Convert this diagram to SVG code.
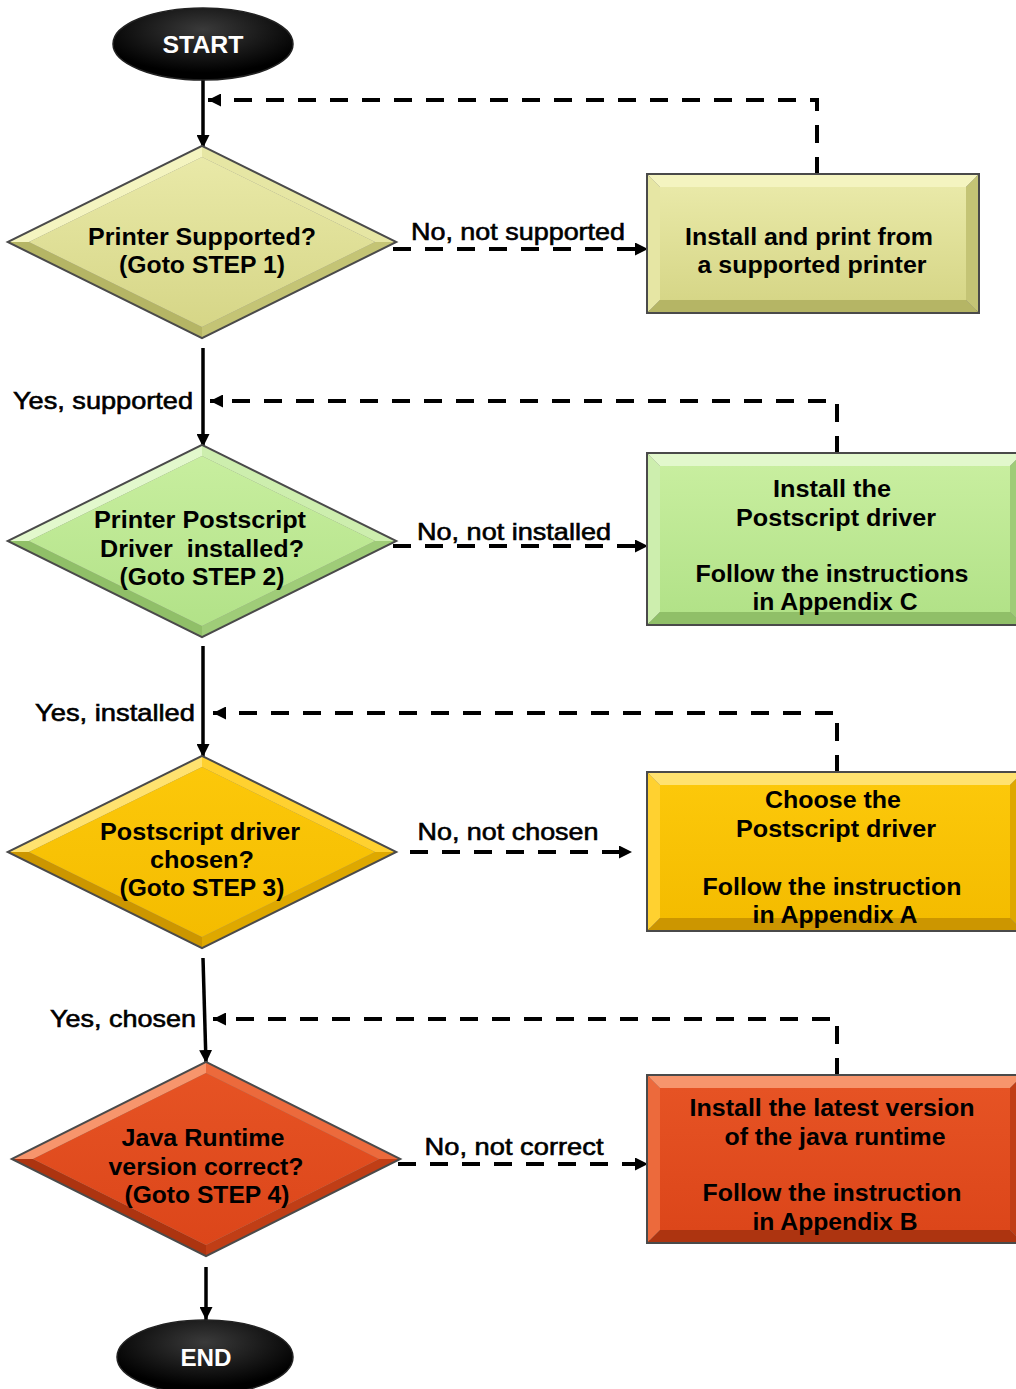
<svg xmlns="http://www.w3.org/2000/svg" width="1016" height="1389" viewBox="0 0 1016 1389">
<defs>
<style>
.bold{font-family:"Liberation Sans",Arial,sans-serif;font-weight:bold;font-size:23px;fill:#000;text-anchor:middle}
.lbl{font-family:"Liberation Sans",Arial,sans-serif;font-size:24px;fill:#000;stroke:#000;stroke-width:0.6px;text-anchor:middle}
.wt{font-family:"Liberation Sans",Arial,sans-serif;font-weight:bold;font-size:24px;fill:#fff;text-anchor:middle}
.outline{stroke:#4a4a4a;stroke-width:4;stroke-linejoin:miter}
.solid{fill:none;stroke:#000;stroke-width:3.5}
.dash{fill:none;stroke:#000;stroke-width:4;stroke-dasharray:18 14}
.y-l{fill:#f4f4c0}.y-m{fill:#e6e6a4}.y-d{fill:#c4c475}.y-dd{fill:#b5b565}
.g-l{fill:#e2f8cc}.g-m{fill:#cdeeae}.g-d{fill:#9fcc78}.g-dd{fill:#90bf68}
.o-l{fill:#ffe270}.o-m{fill:#ffd130}.o-d{fill:#dea800}.o-dd{fill:#cc9600}
.r-l{fill:#f7956c}.r-m{fill:#ec6a3c}.r-d{fill:#c03e16}.r-dd{fill:#ad3410}
</style>
<linearGradient id="gy" x1="0" y1="0" x2="0" y2="1"><stop offset="0" stop-color="#e9e9a8"/><stop offset="1" stop-color="#d6d687"/></linearGradient>
<linearGradient id="gg" x1="0" y1="0" x2="0" y2="1"><stop offset="0" stop-color="#c8ee9f"/><stop offset="1" stop-color="#b2e288"/></linearGradient>
<linearGradient id="go" x1="0" y1="0" x2="0" y2="1"><stop offset="0" stop-color="#fcc80a"/><stop offset="1" stop-color="#f4bc00"/></linearGradient>
<linearGradient id="gr" x1="0" y1="0" x2="0" y2="1"><stop offset="0" stop-color="#e65324"/><stop offset="1" stop-color="#dc461a"/></linearGradient>
<radialGradient id="gb" cx="0.5" cy="0.3" r="0.6"><stop offset="0" stop-color="#3a3a3a"/><stop offset="1" stop-color="#000"/></radialGradient>
<marker id="ah" markerUnits="userSpaceOnUse" markerWidth="13" markerHeight="13" viewBox="0 0 13 13" refX="13" refY="6.5" orient="auto">
<path d="M0,0 L13,6.5 L0,13 z" fill="#000"/>
</marker>
</defs>
<rect width="1016" height="1389" fill="#fff"/>

<g id="connectors">
<path class="solid" d="M203,80 V148" marker-end="url(#ah)"/>
<path class="dash" d="M817,175 V100 H208" marker-end="url(#ah)"/>
<path class="dash" d="M393,249 H648" marker-end="url(#ah)"/>
<path class="solid" d="M203,348 V447" marker-end="url(#ah)"/>
<path class="dash" d="M837,454 V401 H210" marker-end="url(#ah)"/>
<path class="dash" d="M393,546 H648" marker-end="url(#ah)"/>
<path class="solid" d="M203,646 V757" marker-end="url(#ah)"/>
<path class="dash" d="M837,773 V713 H213" marker-end="url(#ah)"/>
<path class="dash" d="M410,852 H632" marker-end="url(#ah)"/>
<path class="solid" d="M203,958 L206,1063" marker-end="url(#ah)"/>
<path class="dash" d="M837,1076 V1019 H213" marker-end="url(#ah)"/>
<path class="dash" d="M398,1164 H648" marker-end="url(#ah)"/>
<path class="solid" d="M206,1267 V1320" marker-end="url(#ah)"/>
<text class="lbl" x="518" y="240" textLength="214" lengthAdjust="spacingAndGlyphs">No, not supported</text>
<text class="lbl" x="103" y="409" textLength="180" lengthAdjust="spacingAndGlyphs">Yes, supported</text>
<text class="lbl" x="514" y="540" textLength="194" lengthAdjust="spacingAndGlyphs">No, not installed</text>
<text class="lbl" x="115" y="721" textLength="160" lengthAdjust="spacingAndGlyphs">Yes, installed</text>
<text class="lbl" x="508" y="840" textLength="181" lengthAdjust="spacingAndGlyphs">No, not chosen</text>
<text class="lbl" x="123" y="1027" textLength="146" lengthAdjust="spacingAndGlyphs">Yes, chosen</text>
<text class="lbl" x="514" y="1155" textLength="179" lengthAdjust="spacingAndGlyphs">No, not correct</text>
</g>

<g id="start">
<ellipse cx="203" cy="44" rx="90" ry="36" fill="url(#gb)" stroke="#222" stroke-width="1.5"/>
<text class="wt" x="203" y="53" textLength="81" lengthAdjust="spacingAndGlyphs">START</text>
</g>

<g id="decision1" transform="translate(202,242)">
<polygon class="outline" points="0,-95 192,0 0,95 -192,0" fill="#888"/>
<polygon class="y-l" points="-192,0 0,-95 0,-85 -173,0"/>
<polygon class="y-m" points="0,-95 192,0 173,0 0,-85"/>
<polygon class="y-d" points="192,0 0,95 0,85 173,0"/>
<polygon class="y-dd" points="0,95 -192,0 -173,0 0,85"/>
<polygon points="0,-85 173,0 0,85 -173,0" fill="url(#gy)"/>
<text class="bold" x="0" y="3" textLength="228" lengthAdjust="spacingAndGlyphs">Printer Supported?</text>
<text class="bold" x="0" y="31" textLength="166" lengthAdjust="spacingAndGlyphs">(Goto STEP 1)</text>
</g>

<g id="action1" transform="translate(648,175)">
<rect class="outline" x="0" y="0" width="330" height="137" fill="#888"/>
<polygon class="y-l" points="0,0 330,0 318,12 12,12"/>
<polygon class="y-m" points="0,0 12,12 12,125 0,137"/>
<polygon class="y-d" points="330,0 318,12 318,125 330,137"/>
<polygon class="y-dd" points="0,137 330,137 318,125 12,125"/>
<rect x="12" y="12" width="306" height="113" fill="url(#gy)"/>
<text class="bold" x="161" y="70" textLength="248" lengthAdjust="spacingAndGlyphs">Install and print from</text>
<text class="bold" x="164" y="98" textLength="229" lengthAdjust="spacingAndGlyphs">a supported printer</text>
</g>

<g id="decision2" transform="translate(202,541)">
<polygon class="outline" points="0,-95 192,0 0,95 -192,0" fill="#888"/>
<polygon class="g-l" points="-192,0 0,-95 0,-85 -173,0"/>
<polygon class="g-m" points="0,-95 192,0 173,0 0,-85"/>
<polygon class="g-d" points="192,0 0,95 0,85 173,0"/>
<polygon class="g-dd" points="0,95 -192,0 -173,0 0,85"/>
<polygon points="0,-85 173,0 0,85 -173,0" fill="url(#gg)"/>
<text class="bold" x="-2" y="-13" textLength="212" lengthAdjust="spacingAndGlyphs">Printer Postscript</text>
<text class="bold" x="0" y="16" textLength="204" lengthAdjust="spacingAndGlyphs" xml:space="preserve">Driver  installed?</text>
<text class="bold" x="0" y="44" textLength="165" lengthAdjust="spacingAndGlyphs">(Goto STEP 2)</text>
</g>

<g id="action2" transform="translate(648,454)">
<rect class="outline" x="0" y="0" width="374" height="170" fill="#888"/>
<polygon class="g-l" points="0,0 374,0 362,12 12,12"/>
<polygon class="g-m" points="0,0 12,12 12,158 0,170"/>
<polygon class="g-d" points="374,0 362,12 362,158 374,170"/>
<polygon class="g-dd" points="0,170 374,170 362,158 12,158"/>
<rect x="12" y="12" width="350" height="146" fill="url(#gg)"/>
<text class="bold" x="184" y="43" textLength="118" lengthAdjust="spacingAndGlyphs">Install the</text>
<text class="bold" x="188" y="72" textLength="200" lengthAdjust="spacingAndGlyphs">Postscript driver</text>
<text class="bold" x="184" y="128" textLength="273" lengthAdjust="spacingAndGlyphs">Follow the instructions</text>
<text class="bold" x="187" y="156" textLength="165" lengthAdjust="spacingAndGlyphs">in Appendix C</text>
</g>

<g id="decision3" transform="translate(202,852)">
<polygon class="outline" points="0,-95 192,0 0,95 -192,0" fill="#888"/>
<polygon class="o-l" points="-192,0 0,-95 0,-85 -173,0"/>
<polygon class="o-m" points="0,-95 192,0 173,0 0,-85"/>
<polygon class="o-d" points="192,0 0,95 0,85 173,0"/>
<polygon class="o-dd" points="0,95 -192,0 -173,0 0,85"/>
<polygon points="0,-85 173,0 0,85 -173,0" fill="url(#go)"/>
<text class="bold" x="-2" y="-12" textLength="200" lengthAdjust="spacingAndGlyphs">Postscript driver</text>
<text class="bold" x="0" y="16" textLength="104" lengthAdjust="spacingAndGlyphs">chosen?</text>
<text class="bold" x="0" y="44" textLength="165" lengthAdjust="spacingAndGlyphs">(Goto STEP 3)</text>
</g>

<g id="action3" transform="translate(648,773)">
<rect class="outline" x="0" y="0" width="374" height="157" fill="#888"/>
<polygon class="o-l" points="0,0 374,0 362,12 12,12"/>
<polygon class="o-m" points="0,0 12,12 12,145 0,157"/>
<polygon class="o-d" points="374,0 362,12 362,145 374,157"/>
<polygon class="o-dd" points="0,157 374,157 362,145 12,145"/>
<rect x="12" y="12" width="350" height="133" fill="url(#go)"/>
<text class="bold" x="185" y="35" textLength="136" lengthAdjust="spacingAndGlyphs">Choose the</text>
<text class="bold" x="188" y="64" textLength="200" lengthAdjust="spacingAndGlyphs">Postscript driver</text>
<text class="bold" x="184" y="122" textLength="259" lengthAdjust="spacingAndGlyphs">Follow the instruction</text>
<text class="bold" x="187" y="150" textLength="165" lengthAdjust="spacingAndGlyphs">in Appendix A</text>
</g>

<g id="decision4" transform="translate(206,1159)">
<polygon class="outline" points="0,-96 192,0 0,96 -192,0" fill="#888"/>
<polygon class="r-l" points="-192,0 0,-96 0,-86 -173,0"/>
<polygon class="r-m" points="0,-96 192,0 173,0 0,-86"/>
<polygon class="r-d" points="192,0 0,96 0,86 173,0"/>
<polygon class="r-dd" points="0,96 -192,0 -173,0 0,86"/>
<polygon points="0,-86 173,0 0,86 -173,0" fill="url(#gr)"/>
<text class="bold" x="-3" y="-13" textLength="163" lengthAdjust="spacingAndGlyphs">Java Runtime</text>
<text class="bold" x="0" y="16" textLength="195" lengthAdjust="spacingAndGlyphs">version correct?</text>
<text class="bold" x="1" y="44" textLength="165" lengthAdjust="spacingAndGlyphs">(Goto STEP 4)</text>
</g>

<g id="action4" transform="translate(648,1076)">
<rect class="outline" x="0" y="0" width="374" height="166" fill="#888"/>
<polygon class="r-l" points="0,0 374,0 362,12 12,12"/>
<polygon class="r-m" points="0,0 12,12 12,154 0,166"/>
<polygon class="r-d" points="374,0 362,12 362,154 374,166"/>
<polygon class="r-dd" points="0,166 374,166 362,154 12,154"/>
<rect x="12" y="12" width="350" height="142" fill="url(#gr)"/>
<text class="bold" x="184" y="40" textLength="285" lengthAdjust="spacingAndGlyphs">Install the latest version</text>
<text class="bold" x="187" y="69" textLength="221" lengthAdjust="spacingAndGlyphs">of the java runtime</text>
<text class="bold" x="184" y="125" textLength="259" lengthAdjust="spacingAndGlyphs">Follow the instruction</text>
<text class="bold" x="187" y="154" textLength="165" lengthAdjust="spacingAndGlyphs">in Appendix B</text>
</g>

<g id="end">
<ellipse cx="205" cy="1357" rx="88" ry="37" fill="url(#gb)" stroke="#222" stroke-width="1.5"/>
<text class="wt" x="206" y="1366" textLength="51" lengthAdjust="spacingAndGlyphs">END</text>
</g>
</svg>
